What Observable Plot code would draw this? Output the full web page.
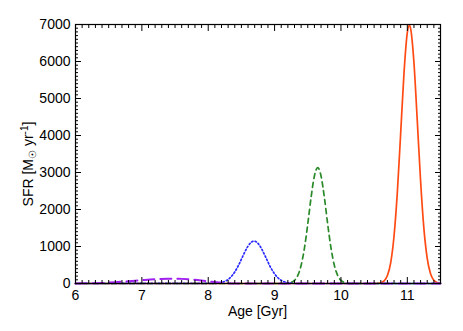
<!DOCTYPE html>
<html>
<head>
<meta charset="utf-8">
<script src="https://cdn.jsdelivr.net/npm/d3@7"></script>
<script src="https://cdn.jsdelivr.net/npm/@observablehq/plot@0.6"></script>
<style>
  html, body { margin: 0; padding: 0; background: #fff; }
  svg { display: block; }
</style>
</head>
<body>
<div id="chart"></div>
<script>
// ---- data ----
const xTicks = [6, 7, 8, 9, 10, 11];
const yTicks = [0, 1000, 2000, 3000, 4000, 5000, 6000, 7000];

const purpleAge = [6.0, 6.2, 6.4, 6.6, 6.8, 7.0, 7.2, 7.4, 7.6, 7.8, 8.0, 8.1, 8.2, 8.3, 8.4, 11.5];
const purpleSFR = [0, 5, 15, 35, 62, 90, 115, 128, 125, 100, 60, 38, 18, 6, 0, 0];

const blueAge = [6.0, 8.10, 8.15, 8.20, 8.25, 8.30, 8.35, 8.40, 8.45, 8.50, 8.55, 8.60, 8.65, 8.69, 8.75, 8.80, 8.85, 8.90, 8.95, 9.00, 9.05, 9.10, 9.15, 9.20, 9.25, 9.30, 11.5];
const blueSFR = [0, 4, 13, 28, 58, 109, 193, 312, 471, 656, 846, 1010, 1117, 1145, 1083, 950, 771, 580, 403, 260, 155, 86, 44, 21, 8, 0, 0];

const greenAge = [6.0, 9.15, 9.20, 9.25, 9.30, 9.35, 9.40, 9.45, 9.50, 9.55, 9.60, 9.65, 9.70, 9.75, 9.80, 9.85, 9.90, 9.95, 10.00, 10.05, 10.10, 10.15, 11.5];
const greenSFR = [0, 0, 8, 28, 83, 219, 492, 958, 1608, 2328, 2907, 3130, 2907, 2328, 1608, 958, 492, 219, 83, 28, 8, 0, 0];

const redAge = [6.0, 10.50, 10.55, 10.60, 10.65, 10.70, 10.75, 10.80, 10.85, 10.90, 10.95, 11.00, 11.03, 11.05, 11.10, 11.15, 11.20, 11.25, 11.30, 11.35, 11.40, 11.45, 11.50];
const redSFR = [0, 0, 4, 19, 69, 214, 567, 1285, 2475, 4063, 5688, 6780, 6980, 6890, 5967, 4402, 2769, 1483, 679, 263, 87, 25, 6];

const toRows = (ages, vals) => ages.map((a, i) => ({age: a, sfr: vals[i]}));
const purple = toRows(purpleAge, purpleSFR);
const blue = toRows(blueAge, blueSFR);
const green = toRows(greenAge, greenSFR);
const red = toRows(redAge, redSFR);

const xMinor = d3.range(6, 11.55, 0.1).map(v => +v.toFixed(1)).filter(v => !xTicks.includes(v));
const yMinor = d3.range(0, 7001, 100).filter(v => !yTicks.includes(v));

const font = "Liberation Sans, Arial, Helvetica, sans-serif";
const empty = () => "";

const plot = Plot.plot({
  width: 463,
  height: 331,
  marginLeft: 75,
  marginRight: 23,
  marginTop: 24,
  marginBottom: 48,
  style: {fontFamily: font, fontSize: "14px", background: "#fff", color: "#000"},
  x: {domain: [6, 11.5], label: null},
  y: {domain: [0, 7000], label: null},
  marks: [
    Plot.line(red, {x: "age", y: "sfr", stroke: "#ff4a14", strokeWidth: 1.7, curve: "monotone-x"}),
    Plot.line(green, {x: "age", y: "sfr", stroke: "#2a8a2a", strokeWidth: 1.7, strokeDasharray: "5,4", curve: "monotone-x"}),
    Plot.line(blue, {x: "age", y: "sfr", stroke: "#2a2aff", strokeWidth: 1.7, strokeDasharray: "1.4,2.2", curve: "monotone-x"}),
    Plot.line(purple, {x: "age", y: "sfr", stroke: "#a020f0", strokeWidth: 2, strokeDasharray: "11,6", curve: "monotone-x"}),
    // major ticks + labels
    Plot.axisX({anchor: "bottom", ticks: xTicks, tickSize: -6, tickPadding: 13, fontSize: 14, tickFormat: d => String(d)}),
    Plot.axisY({anchor: "left", ticks: yTicks, tickSize: -6, tickPadding: 11, fontSize: 14, tickFormat: d => String(d)}),
    Plot.axisX({anchor: "top", ticks: xTicks, tickSize: -6, tickFormat: empty}),
    Plot.axisY({anchor: "right", ticks: yTicks, tickSize: -6, tickFormat: empty}),
    // minor ticks
    Plot.axisX({anchor: "bottom", ticks: xMinor, tickSize: -3, tickFormat: empty}),
    Plot.axisX({anchor: "top", ticks: xMinor, tickSize: -3, tickFormat: empty}),
    Plot.axisY({anchor: "left", ticks: yMinor, tickSize: -3, tickFormat: empty}),
    Plot.axisY({anchor: "right", ticks: yMinor, tickSize: -3, tickFormat: empty}),
    Plot.frame({stroke: "#000", strokeWidth: 1.2})
  ]
});

const svg = d3.select(plot);
// x-axis title
svg.append("text")
  .attr("x", 257.5).attr("y", 316)
  .attr("text-anchor", "middle")
  .attr("font-family", font).attr("font-size", 14).attr("fill", "#000")
  .text("Age [Gyr]");
// y-axis title with subscript/superscript
const yt = svg.append("text")
  .attr("transform", "translate(33,164) rotate(-90)")
  .attr("text-anchor", "middle")
  .attr("font-family", font).attr("font-size", 14).attr("fill", "#000");
yt.append("tspan").text("SFR [M");
yt.append("tspan").attr("font-size", 10).attr("dy", 3).text("☉");
yt.append("tspan").attr("dy", -3).text(" yr");
yt.append("tspan").attr("font-size", 10).attr("dy", -5).text("-1");
yt.append("tspan").attr("dy", 5).text("]");

document.getElementById("chart").appendChild(plot);
</script>
</body>
</html>
